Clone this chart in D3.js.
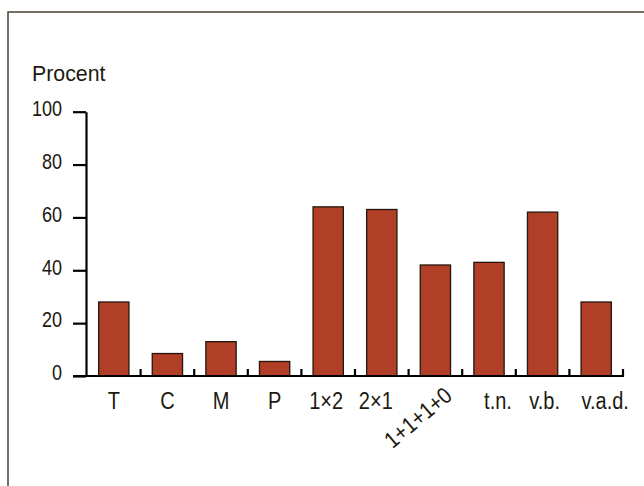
<!DOCTYPE html>
<html>
<head>
<meta charset="utf-8">
<script src="https://cdn.jsdelivr.net/npm/d3@7"></script>
<style>
  html, body { margin: 0; padding: 0; background: #fff; }
  svg { display: block; }
  text { font-family: "Liberation Sans", Arial, sans-serif; fill: #201910; }
</style>
</head>
<body>
<svg id="chart" width="644" height="486"></svg>
<script>
// Category labels along the x axis
const categories = ["T", "C", "M", "P", "1\u00d72", "2\u00d71", "1+1+1+0", "t.n.", "v.b.", "v.a.d."];
// Share of respondents, per category (percent)
const percentValues = [28, 8.5, 13, 5.5, 64, 63, 42, 43, 62, 28];
// Y axis tick labels
const yTicks = [0, 20, 40, 60, 80, 100];
const yLabel = "Procent";

const svg = d3.select("#chart");
const W = 644, H = 486;

// Frame (left and top edges)
svg.append("path")
  .attr("d", `M8,${H} L8,12 L${W},12`)
  .attr("fill", "none")
  .attr("stroke", "#4a4036")
  .attr("stroke-width", 1.5);

const x = d3.scaleBand().domain(categories).range([87, 623]).padding(0);
const y = d3.scaleLinear().domain([0, 100]).range([376, 111.7]);
const barW = x.step() * 0.565;

// Bars
svg.append("g").selectAll("rect")
  .data(categories.map((c, i) => ({ c, v: percentValues[i] })))
  .join("rect")
  .attr("x", d => x(d.c) + (x.step() - barW) / 2)
  .attr("y", d => y(d.v))
  .attr("width", barW)
  .attr("height", d => y(0) - y(d.v))
  .attr("fill", "#b13e27")
  .attr("stroke", "#22160e")
  .attr("stroke-width", 1.3);

// Y axis
const yAxis = svg.append("g")
  .attr("transform", "translate(86,0)")
  .call(d3.axisLeft(y).tickValues(yTicks).tickSize(13).tickPadding(11).tickSizeOuter(0));
yAxis.select(".domain").attr("stroke", "#000").attr("stroke-width", 2.2);
yAxis.selectAll(".tick line").attr("stroke", "#000").attr("stroke-width", 2.2);
yAxis.selectAll(".tick text")
  .attr("x", null)
  .attr("transform", "translate(-24,0) scale(0.82,1)")
  .attr("font-size", 22)
  .attr("dy", "0.17em")
  .attr("fill", "#201910")
  .style("font-family", "'Liberation Sans', Arial, sans-serif");

// X axis line, extending left to the y tick start
svg.append("line")
  .attr("x1", 73).attr("x2", 624)
  .attr("y1", y(0)).attr("y2", y(0))
  .attr("stroke", "#000").attr("stroke-width", 2.2);

// Upward ticks at category boundaries
svg.append("g").selectAll("line")
  .data(categories)
  .join("line")
  .attr("x1", d => x(d) + x.step())
  .attr("x2", d => x(d) + x.step())
  .attr("y1", y(0))
  .attr("y2", y(0) - 7)
  .attr("stroke", "#000")
  .attr("stroke-width", 2.2);

// Category labels; the long one is set at an angle
const labelNudge = { "1\u00d72": -2, "2\u00d71": -6, "t.n.": 9, "v.b.": 2, "v.a.d.": 9 };
svg.append("g").selectAll("text")
  .data(categories)
  .join("text")
  .attr("font-size", 23)
  .attr("text-anchor", d => d === "1+1+1+0" ? "end" : "middle")
  .attr("transform", d => {
    const cx = x(d) + x.step() / 2;
    if (d === "1+1+1+0") return `translate(${cx + 18},${y(0) + 22}) rotate(-40) scale(0.87,1)`;
    return `translate(${cx + (labelNudge[d] || 0)},${y(0) + 33}) scale(0.87,1)`;
  })
  .text(d => d);

// Y axis title
svg.append("text")
  .attr("transform", "translate(32,81) scale(0.97,1)")
  .attr("font-size", 22)
  .text(yLabel);
</script>
</body>
</html>
